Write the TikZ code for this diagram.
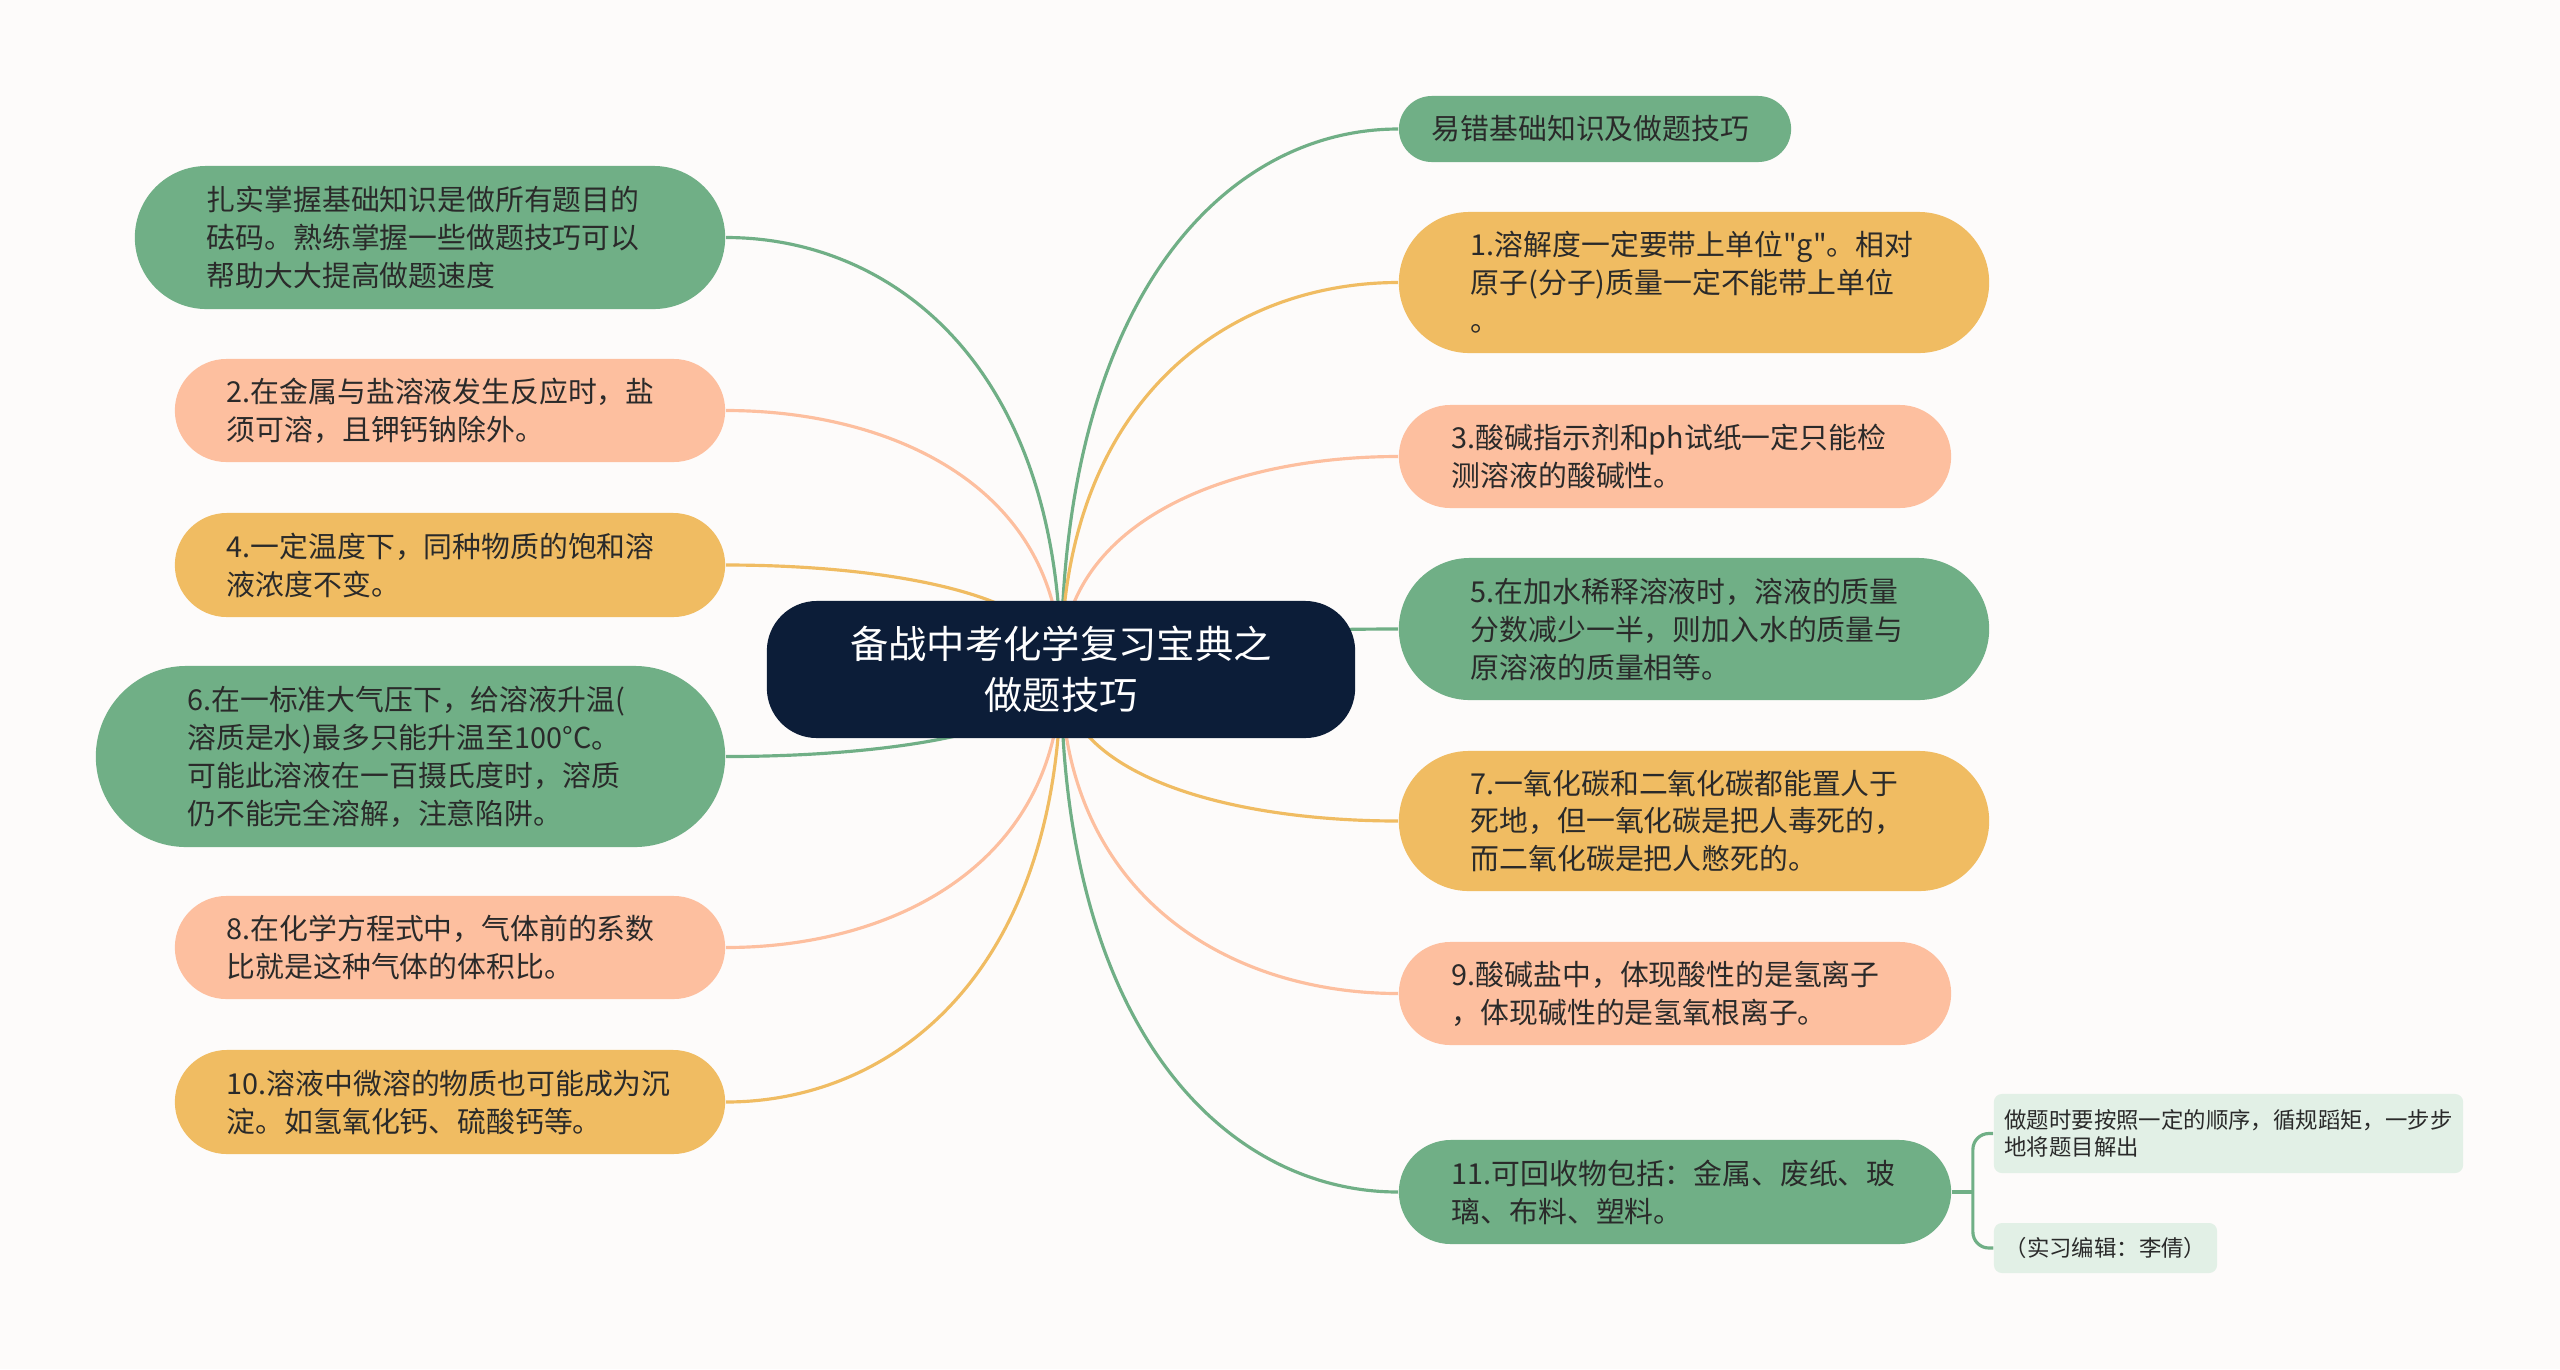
\documentclass[tikz,border=0pt]{standalone}
\usepackage{fontspec}
\setmainfont{Noto Sans CJK SC}[Ligatures=TeXOff]
\usetikzlibrary{shapes.misc,calc}
\definecolor{bgwhite}{HTML}{FDFBFA}
\definecolor{tgreen}{HTML}{70AF86}
\definecolor{tyellow}{HTML}{F0BC62}
\definecolor{tsalmon}{HTML}{FDBF9F}
\definecolor{tnavy}{HTML}{0C1D38}
\definecolor{tpale}{HTML}{E2F0E6}
\definecolor{txtdark}{HTML}{2A2A2A}
\pgfdeclarelayer{back}
\pgfdeclarelayer{links}
\pgfsetlayers{back,links,main}

\begin{document}
\begin{tikzpicture}[x=0.01cm,y=-0.01cm,
    pill/.style={rounded rectangle, fill=#1, text=txtdark, align=left, inner sep=0pt,
      text width=4.46cm, font=\fontsize{8.2}{10.8}\selectfont},
    note/.style={rectangle, rounded corners=0.08cm, fill=tpale, text=txtdark, align=left,
      inner sep=0pt, font=\fontsize{6.37}{7.9}\selectfont},
    link/.style={draw=#1, line width=0.9pt}]
  \useasboundingbox (0,0) rectangle (2560,1369);
  \begin{pgfonlayer}{back}
    \fill[bgwhite] (0,0) rectangle (2560,1369);
  \end{pgfonlayer}

  % Central topic
  \node[fill=tnavy, rounded corners=0.5cm, minimum width=5.88cm, minimum height=1.37cm,
    text=white, align=center, inner sep=0pt, font=\fontsize{10.9}{14.4}\selectfont]
    (ctr) at (1061,669.5) {备战中考化学复习宝典之\\做题技巧};

  % Left branches
  \node[pill=tgreen, minimum width=5.90cm, minimum height=1.43cm] (l1) at (430,237.5)
    {扎实掌握基础知识是做所有题目的\\砝码。熟练掌握一些做题技巧可以\\帮助大大提高做题速度};
  \node[pill=tsalmon, minimum width=5.50cm, minimum height=1.03cm] (l2) at (450,410.5)
    {2.在金属与盐溶液发生反应时，盐\\须可溶，且钾钙钠除外。};
  \node[pill=tyellow, minimum width=5.50cm, minimum height=1.04cm] (l3) at (450,565)
    {4.一定温度下，同种物质的饱和溶\\液浓度不变。};
  \node[pill=tgreen, minimum width=6.29cm, minimum height=1.81cm] (l4) at (410.5,756.5)
    {6.在一标准大气压下，给溶液升温(\\溶质是水)最多只能升温至100°C。\\可能此溶液在一百摄氏度时，溶质\\仍不能完全溶解，注意陷阱。};
  \node[pill=tsalmon, minimum width=5.50cm, minimum height=1.03cm] (l5) at (450,947.5)
    {8.在化学方程式中，气体前的系数\\比就是这种气体的体积比。};
  \node[pill=tyellow, minimum width=5.50cm, minimum height=1.04cm] (l6) at (450,1102)
    {10.溶液中微溶的物质也可能成为沉\\淀。如氢氧化钙、硫酸钙等。};

  % Right branches
  \node[pill=tgreen, text width=3.26cm, minimum width=3.92cm, minimum height=0.66cm] (r0) at (1595,129)
    {易错基础知识及做题技巧};
  \node[pill=tyellow, minimum width=5.90cm, minimum height=1.41cm] (r1) at (1694,282.5)
    {1.溶解度一定要带上单位"g"。相对\\原子(分子)质量一定不能带上单位\\。};
  \node[pill=tsalmon, minimum width=5.52cm, minimum height=1.03cm] (r2) at (1675,456.5)
    {3.酸碱指示剂和ph试纸一定只能检\\测溶液的酸碱性。};
  \node[pill=tgreen, minimum width=5.90cm, minimum height=1.42cm] (r3) at (1694,629)
    {5.在加水稀释溶液时，溶液的质量\\分数减少一半，则加入水的质量与\\原溶液的质量相等。};
  \node[pill=tyellow, minimum width=5.90cm, minimum height=1.40cm] (r4) at (1694,821)
    {7.一氧化碳和二氧化碳都能置人于\\死地，但一氧化碳是把人毒死的，\\而二氧化碳是把人憋死的。};
  \node[pill=tsalmon, minimum width=5.52cm, minimum height=1.03cm] (r5) at (1675,993.5)
    {9.酸碱盐中，体现酸性的是氢离子\\，体现碱性的是氢氧根离子。};
  \node[pill=tgreen, minimum width=5.52cm, minimum height=1.04cm] (r6) at (1675,1192)
    {11.可回收物包括：金属、废纸、玻\\璃、布料、塑料。};

  % Notes under branch 11
  \node[note, minimum width=4.69cm, minimum height=0.79cm] (s1) at (2228.5,1133.5)
    {做题时要按照一定的顺序，循规蹈矩，一步步\\地将题目解出};
  \node[note, minimum width=2.23cm, minimum height=0.50cm] (s2) at (2105.5,1248)
    {（实习编辑：李倩）};
  \coordinate (fork) at ($(r6.east)+(21,0)$);

  % Connectors
  \begin{pgfonlayer}{links}
    \foreach \nd/\col in {r0/tgreen,r1/tyellow,r2/tsalmon,r3/tgreen,r4/tyellow,r5/tsalmon,r6/tgreen}
      \draw[link=\col] (ctr.center) .. controls ($(ctr.center)!0.7!(ctr.center |- \nd.west)$)
        and ($(\nd.west)!0.5!(\nd.west -| ctr.center)$) .. (\nd.west);
    \foreach \nd/\col in {l1/tgreen,l2/tsalmon,l3/tyellow,l4/tgreen,l5/tsalmon,l6/tyellow}
      \draw[link=\col] (ctr.center) .. controls ($(ctr.center)!0.7!(ctr.center |- \nd.east)$)
        and ($(\nd.east)!0.5!(\nd.east -| ctr.center)$) .. (\nd.east);
    \draw[link=tgreen] (r6.east) -- (fork);
    \draw[link=tgreen, rounded corners=0.16cm] (s1.west) -| (fork) |- (s2.west);
  \end{pgfonlayer}
\end{tikzpicture}
\end{document}
